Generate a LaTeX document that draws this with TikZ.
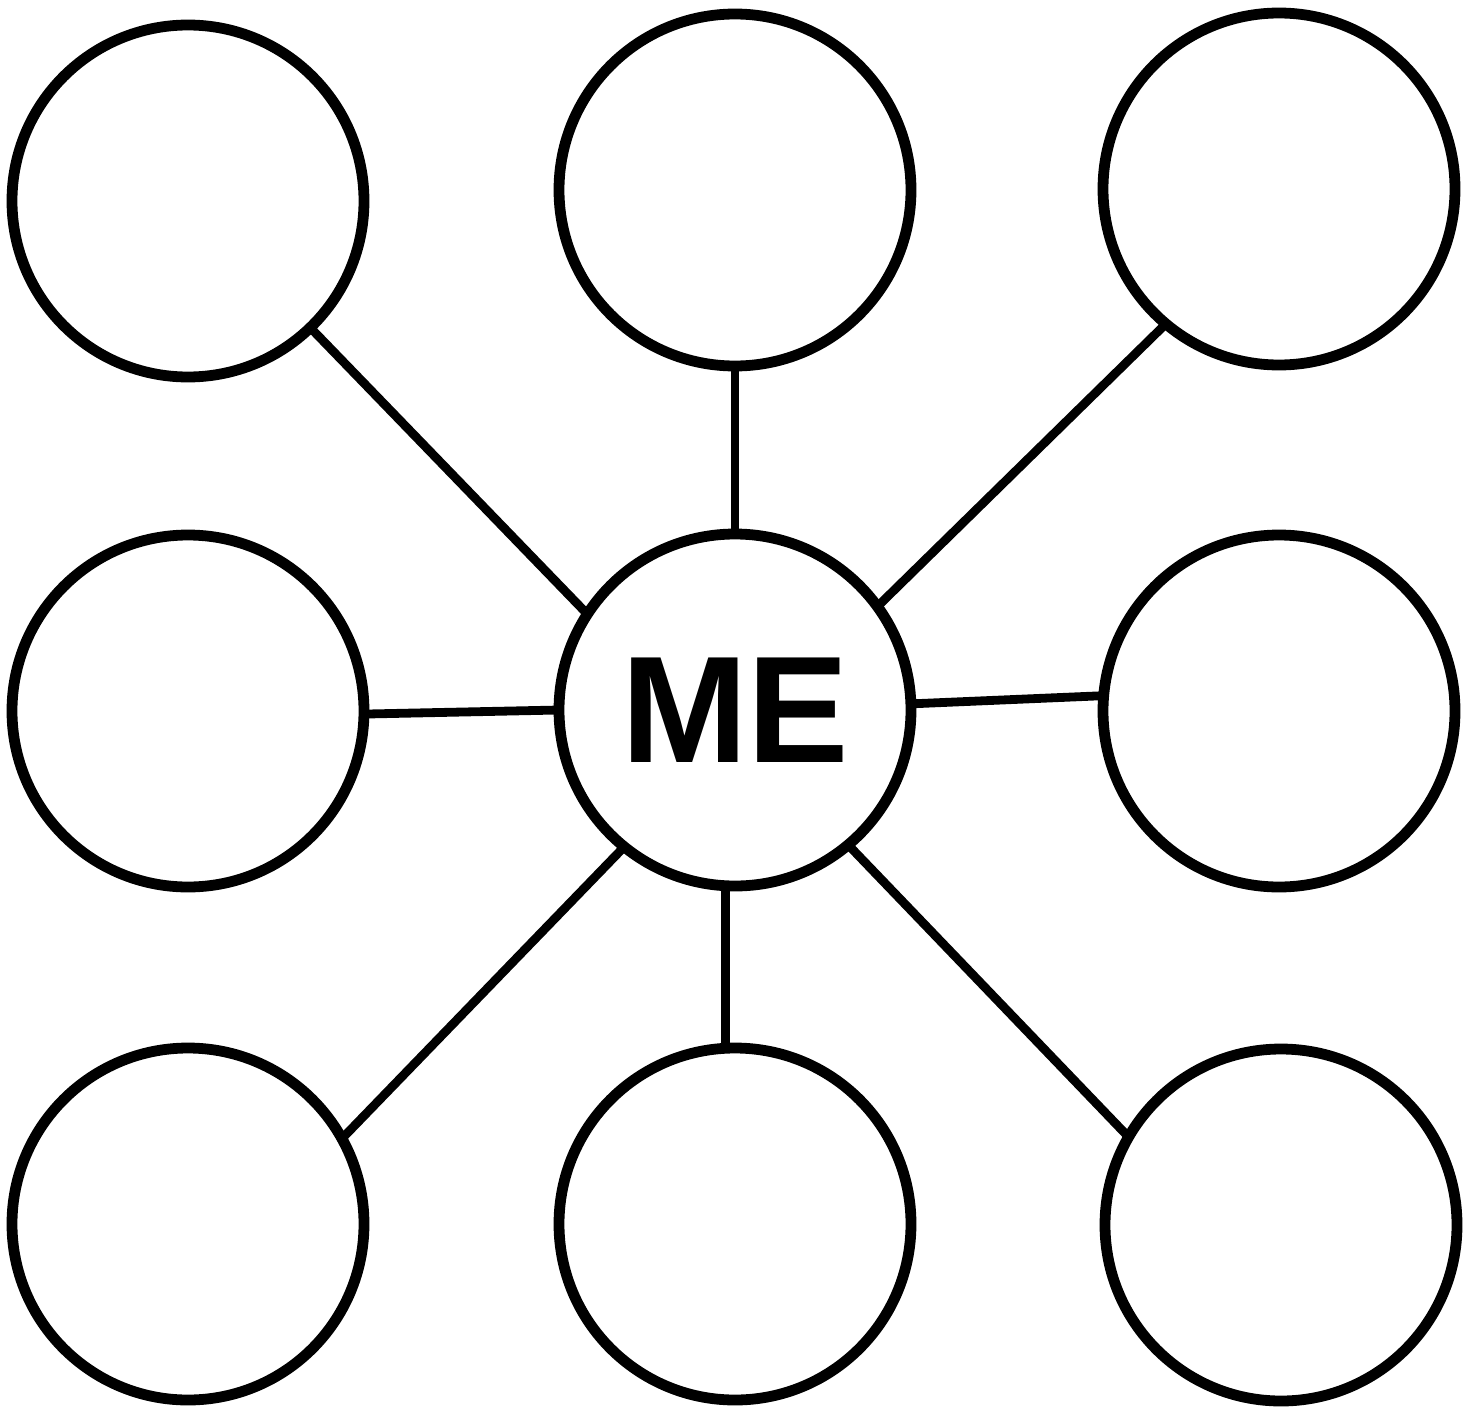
\documentclass[tikz,border=0pt]{standalone}
\usepackage{fontspec}
\setmainfont{Liberation Sans}
\begin{document}
\begin{tikzpicture}[x=0.5pt,y=-0.5pt,
  bubble/.style={circle,draw=black,line width=5.4pt,minimum size=176pt,inner sep=0pt,outer sep=0pt,fill=white},
  link/.style={draw=black,line width=4.4pt}]
\useasboundingbox[fill=white] (0,0) rectangle (1477,1408);
\node[bubble] (me) at (735,710) {\fontsize{76}{80}\selectfont\bfseries ME};
\node[bubble] (tl) at (188,201) {};
\node[bubble] (tm) at (735,190) {};
\node[bubble] (tr) at (1279,189) {};
\node[bubble] (ml) at (188,711) {};
\node[bubble] (mr) at (1279,711) {};
\node[bubble] (bl) at (188,1224) {};
\node[bubble] (bm) at (735,1224) {};
\node[bubble] (br) at (1281,1225) {};
\begin{scope}[on background layer/.try]
\end{scope}
\draw[link] (tl.-46.5) -- (me.147.7);
\draw[link] (tm.-90) -- (me.90);
\draw[link] (tr.-130.9) -- (me.36.4);
\draw[link] (ml.-1.3) -- (me.180.6);
\draw[link] (me.2.8) -- (mr.175.5);
\draw[link] (bl.29.2) -- (me.-129.3);
\draw[link] (me.-93.3) -- (bm.93.1);
\draw[link] (me.-50.5) -- (br.150.6);
\end{tikzpicture}
\end{document}
